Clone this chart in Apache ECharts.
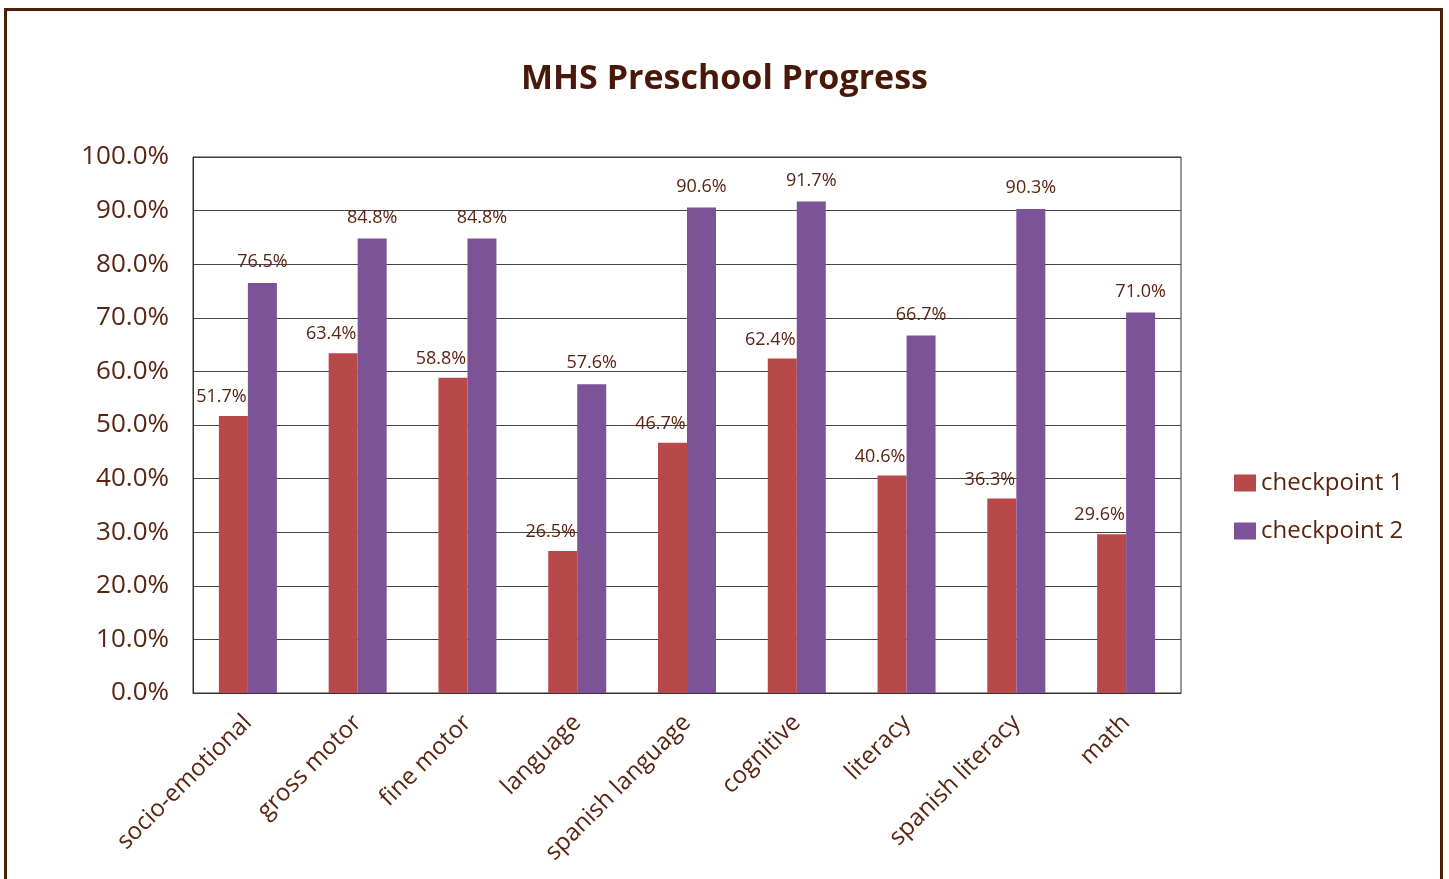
<!DOCTYPE html>
<html>
<head>
<meta charset="utf-8">
<script src="https://cdn.jsdelivr.net/npm/echarts@6/dist/echarts.min.js"></script>
<style>
  html, body { margin: 0; padding: 0; background: #fff; }
  #chart { width: 1449px; height: 879px; }
</style>
</head>
<body>
<div id="chart"></div>
<script>
// 分类
const categories = ['socio-emotional', 'gross motor', 'fine motor', 'language', 'spanish language', 'cognitive', 'literacy', 'spanish literacy', 'math']
// 两次检查点的数据 (%)
const checkpoint1 = [51.7, 63.4, 58.8, 26.5, 46.7, 62.4, 40.6, 36.3, 29.6]
const checkpoint2 = [76.5, 84.8, 84.8, 57.6, 90.6, 91.7, 66.7, 90.3, 71.0]

const textColor = '#5a2410'
const fontFamily = '"Open Sans", "Noto Sans", sans-serif'

const chart = echarts.init(document.getElementById('chart'))

const option = {
  backgroundColor: '#fff',
  textStyle: { fontFamily: fontFamily, color: textColor },
  title: {
    text: 'MHS Preschool Progress',
    left: 'center',
    top: 57,
    textStyle: { fontSize: 34, fontWeight: 'bold', color: '#4a1808', fontFamily: fontFamily }
  },
  graphic: [
    {
      type: 'rect',
      shape: { x: 5.5, y: 9.5, width: 1436, height: 900 },
      style: { fill: 'none', stroke: '#4f1f0a', lineWidth: 3 },
      silent: true
    }
  ],
  legend: {
    orient: 'vertical',
    left: 1229,
    top: 466,
    icon: 'rect',
    itemWidth: 22,
    itemHeight: 17,
    itemGap: 24,
    textStyle: { fontSize: 24, color: textColor, fontFamily: fontFamily },
    data: ['checkpoint 1', 'checkpoint 2']
  },
  grid: {
    left: 193,
    right: 268,
    top: 157,
    bottom: 186,
    show: true,
    borderColor: '#333',
    borderWidth: 1
  },
  xAxis: {
    type: 'category',
    data: categories,
    axisTick: { show: false },
    axisLine: { lineStyle: { color: '#333' } },
    axisLabel: {
      rotate: 45,
      margin: 26,
      fontSize: 24,
      color: textColor,
      fontFamily: fontFamily
    }
  },
  yAxis: {
    type: 'value',
    min: 0,
    max: 100,
    interval: 10,
    axisLine: { show: true, lineStyle: { color: '#333' } },
    axisTick: { show: false },
    splitLine: { lineStyle: { color: '#444', width: 1 } },
    axisLabel: {
      margin: 24,
      fontSize: 26,
      color: textColor,
      fontFamily: fontFamily,
      formatter: (v) => v.toFixed(1) + '%'
    }
  },
  series: [
    {
      name: 'checkpoint 1',
      type: 'bar',
      data: checkpoint1,
      barWidth: 29,
      barGap: '0%',
      itemStyle: { color: '#b8494b' },
      label: {
        show: true,
        position: 'top',
        distance: 10,
        offset: [-12, 0],
        fontSize: 18,
        color: textColor,
        fontFamily: fontFamily,
        formatter: (p) => p.value.toFixed(1) + '%'
      }
    },
    {
      name: 'checkpoint 2',
      type: 'bar',
      data: checkpoint2,
      barWidth: 29,
      barGap: '0%',
      itemStyle: { color: '#7d5398' },
      label: {
        show: true,
        position: 'top',
        distance: 12,
        fontSize: 18,
        color: textColor,
        fontFamily: fontFamily,
        formatter: (p) => p.value.toFixed(1) + '%'
      }
    }
  ]
}

chart.setOption(option)
</script>
</body>
</html>
